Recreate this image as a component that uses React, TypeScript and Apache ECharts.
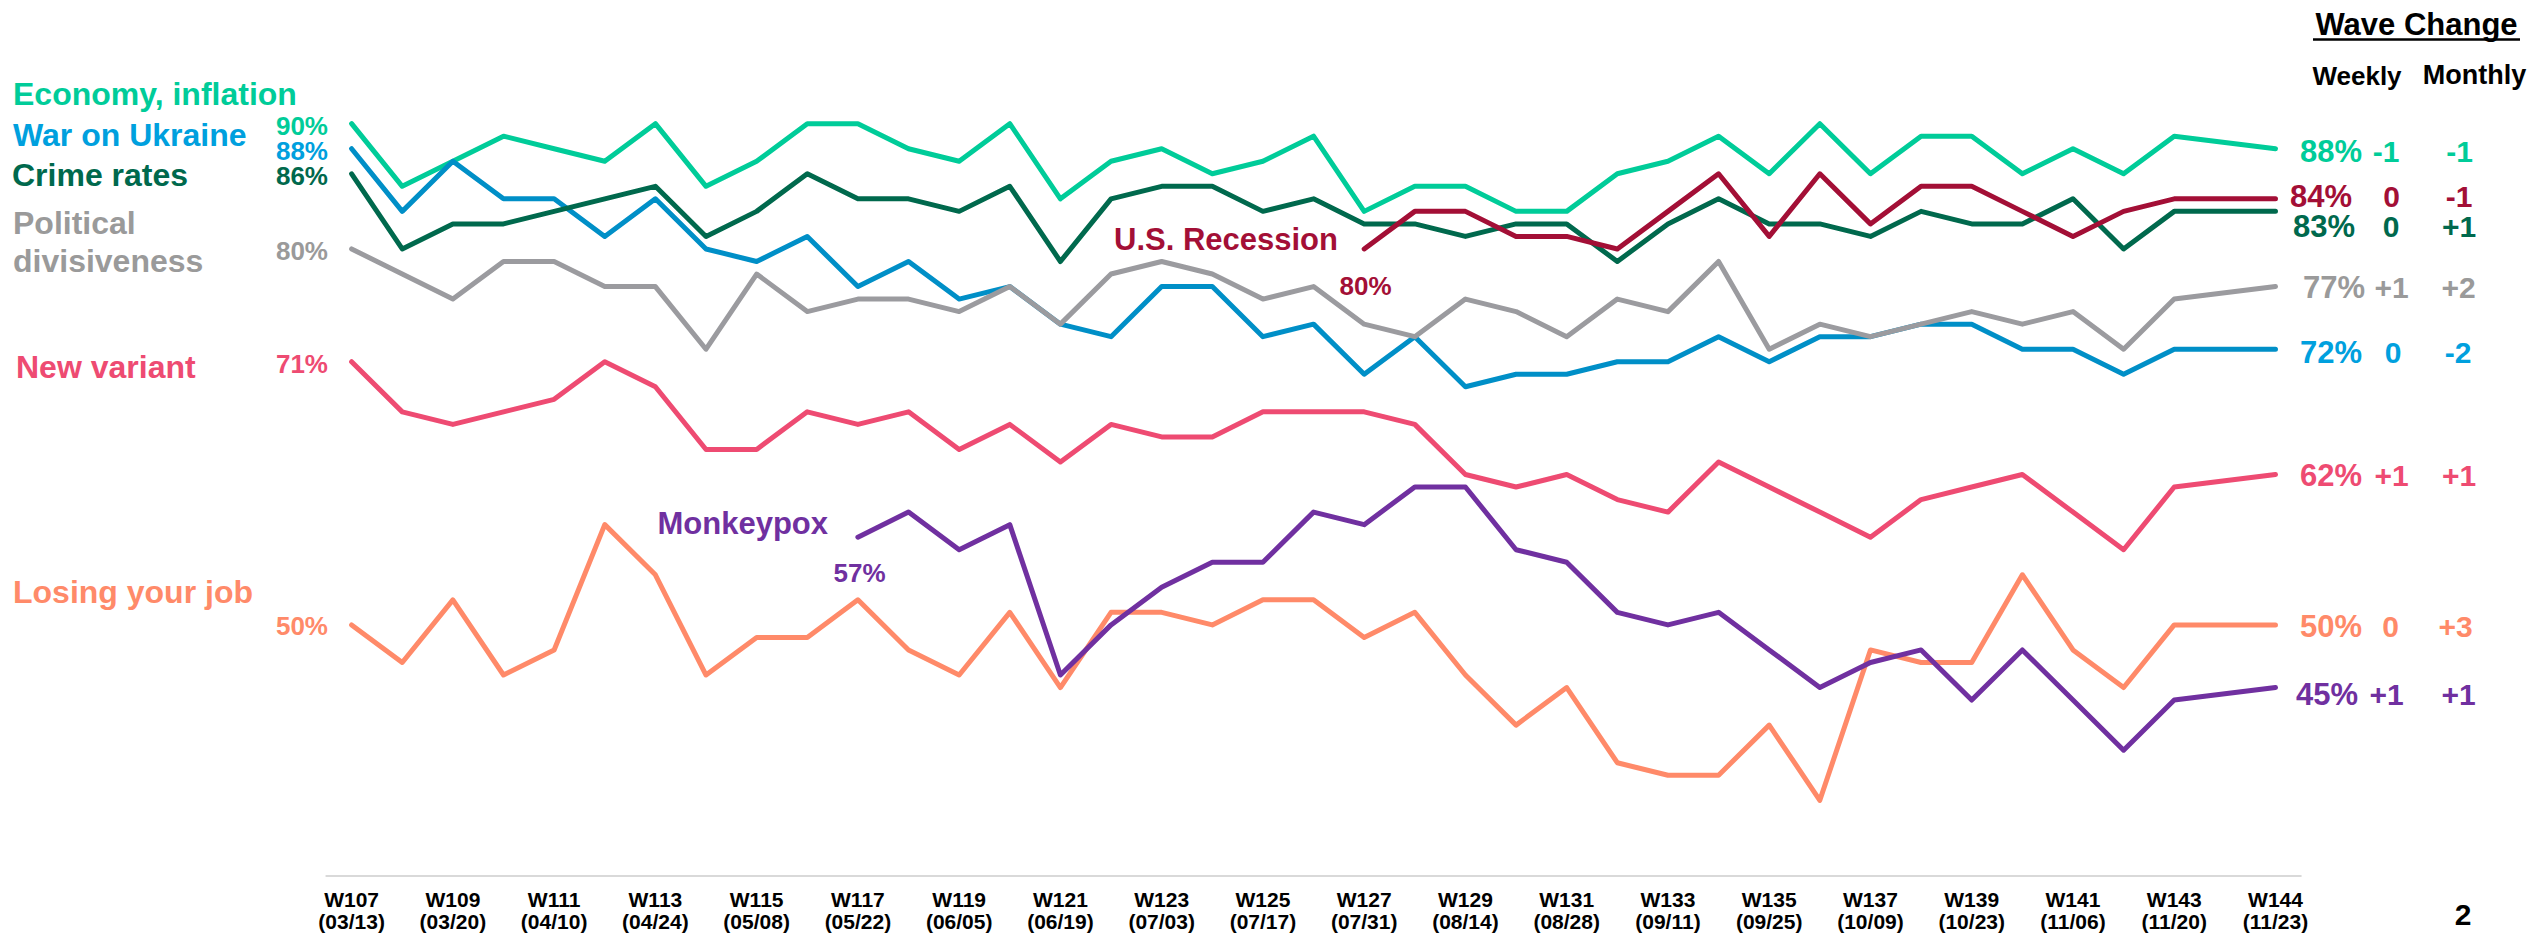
import React, { useEffect, useRef } from "react";
import * as echarts from "echarts";

// ---- Data ----
const tickWaves = ["W107","W109","W111","W113","W115","W117","W119","W121","W123","W125","W127","W129","W131","W133","W135","W137","W139","W141","W143","W144"];
const tickDates = ["03/13","03/20","04/10","04/24","05/08","05/22","06/05","06/19","07/03","07/17","07/31","08/14","08/28","09/11","09/25","10/09","10/23","11/06","11/20","11/23"];

const economy = [90,85,87,89,88,87,90,85,87,90,90,88,87,90,84,87,88,86,87,89,83,85,85,83,83,86,87,89,86,90,86,89,89,86,88,86,89,null,88];
const warUkraine = [88,83,87,84,84,81,84,80,79,81,77,79,76,77,74,73,77,77,73,74,70,73,69,70,70,71,71,73,71,73,73,74,74,72,72,70,72,null,72];
const crimeRates = [86,80,82,82,83,84,85,81,83,86,84,84,83,85,79,84,85,85,83,84,82,82,81,82,82,79,82,84,82,82,81,83,82,82,84,80,83,null,83];
const political = [80,78,76,79,79,77,77,72,78,75,76,76,75,77,74,78,79,78,76,77,74,73,76,75,73,76,75,79,72,74,73,74,75,74,75,72,76,null,77];
const recession = [null,null,null,null,null,null,null,null,null,null,null,null,null,null,null,null,null,null,null,null,80,83,83,81,81,80,83,86,81,86,82,85,85,83,81,83,84,null,84];
const newVariant = [71,67,66,67,68,71,69,64,64,67,66,67,64,66,63,66,65,65,67,67,67,66,62,61,62,60,59,63,61,59,57,60,61,62,59,56,61,null,62];
const losingJob = [50,47,52,46,48,58,54,46,49,49,52,48,46,51,45,51,51,50,52,52,49,51,46,42,45,39,38,38,42,36,48,47,47,54,48,45,50,null,50];
const monkeypox = [null,null,null,null,null,null,null,null,null,null,57,59,56,58,46,50,53,55,55,59,58,61,61,56,55,51,50,51,48,45,47,48,44,48,44,40,44,null,45];

// weekly / monthly change
const weeklyChange = { economy: "-1", recession: "0", crime: "0", political: "+1", war: "0", variant: "+1", job: "0", monkeypox: "+1" };
const monthlyChange = { economy: "-1", recession: "-1", crime: "+1", political: "+2", war: "-2", variant: "+1", job: "+3", monkeypox: "+1" };

// ---- Styles ----
const FONT = "'Liberation Sans', Arial, Helvetica, sans-serif";
const C = {
  economy: "#00CC99",
  war: "#008FC7",
  warText: "#00A0DE",
  crime: "#00694D",
  political: "#9B9B9F",
  politicalText: "#9A9A9A",
  variant: "#EE4B72",
  job: "#FF8A69",
  monkeypox: "#7030A0",
  recession: "#A30F36",
};

const categories: string[] = [];
for (let i = 0; i < 39; i++) {
  if (i % 2 === 0) categories.push(tickWaves[i / 2] + "\n(" + tickDates[i / 2] + ")");
  else categories.push("mid" + i);
}

const first = (a: (number | null)[]) => a.find((v) => v !== null) as number;
const last = (a: (number | null)[]) => a[a.length - 1] as number;

function txt(text: string, x: number, y: number, size: number, color: string, align = "left", extra: any = {}) {
  return {
    type: "text",
    x,
    y,
    silent: true,
    style: {
      text,
      fill: color,
      font: `bold ${size}px ${FONT}`,
      align,
      verticalAlign: "middle",
      ...extra,
    },
  };
}

export default function App() {
  const ref = useRef<HTMLDivElement>(null);
  useEffect(() => {
    if (!ref.current) return;
    const chart = echarts.init(ref.current, undefined, { renderer: "svg" });

    const mk = (name: string, data: (number | null)[], color: string) => ({
      name,
      type: "line",
      data,
      symbol: "none",
      connectNulls: true,
      lineStyle: { color, width: 5, cap: "round", join: "round" },
      itemStyle: { color },
      emphasis: { disabled: true },
    });

    const rightRows = [
      { v: last(economy), w: weeklyChange.economy, m: monthlyChange.economy, c: C.economy, y: 151, px: 2300, wx: 2386, mx: 2459.5 },
      { v: last(recession), w: weeklyChange.recession, m: monthlyChange.recession, c: C.recession, y: 196, px: 2290, wx: 2391.5, mx: 2459 },
      { v: last(crimeRates), w: weeklyChange.crime, m: monthlyChange.crime, c: C.crime, y: 226, px: 2293, wx: 2391, mx: 2459 },
      { v: last(political), w: weeklyChange.political, m: monthlyChange.political, c: C.politicalText, y: 287, px: 2303, wx: 2391.5, mx: 2458.5 },
      { v: last(warUkraine), w: weeklyChange.war, m: monthlyChange.war, c: C.warText, y: 352.5, px: 2300, wx: 2393, mx: 2458 },
      { v: last(newVariant), w: weeklyChange.variant, m: monthlyChange.variant, c: C.variant, y: 475, px: 2300, wx: 2391.5, mx: 2459 },
      { v: last(losingJob), w: weeklyChange.job, m: monthlyChange.job, c: C.job, y: 626, px: 2300, wx: 2390.5, mx: 2455.5 },
      { v: last(monkeypox), w: weeklyChange.monkeypox, m: monthlyChange.monkeypox, c: C.monkeypox, y: 694, px: 2296, wx: 2386.5, mx: 2458.5 },
    ];

    const small = { lineHeight: 22 };
    const graphics: any[] = [
      // left series names
      txt("Economy, inflation", 13, 94, 32, C.economy),
      txt("War on Ukraine", 13, 134.5, 32, C.warText),
      txt("Crime rates", 12, 175, 32, C.crime),
      txt("Political\ndivisiveness", 13, 242, 32, C.politicalText, "left", { lineHeight: 38 }),
      txt("New variant", 16, 367, 32, C.variant),
      txt("Losing your job", 13, 592, 32, C.job),
      // left start values
      txt(first(economy) + "%", 328, 126, 26, C.economy, "right", small),
      txt(first(warUkraine) + "%", 328, 150.5, 26, C.warText, "right", small),
      txt(first(crimeRates) + "%", 328, 176, 26, C.crime, "right", small),
      txt(first(political) + "%", 328, 251, 26, C.politicalText, "right"),
      txt(first(newVariant) + "%", 328, 364, 26, C.variant, "right"),
      txt(first(losingJob) + "%", 328, 626, 26, C.job, "right"),
      // inline labels
      txt("U.S. Recession", 1114, 239, 31, C.recession),
      txt(first(recession) + "%", 1365.5, 285.5, 26, C.recession, "center"),
      txt("Monkeypox", 828, 523, 31, C.monkeypox, "right"),
      txt(first(monkeypox) + "%", 859.5, 572.5, 26, C.monkeypox, "center"),
      // header
      txt("Wave Change", 2416.5, 24, 31, "#000", "center"),
      { type: "line", silent: true, shape: { x1: 2313, y1: 39.5, x2: 2520, y2: 39.5 }, style: { stroke: "#000", lineWidth: 2.5 } },
      txt("Weekly", 2357, 76, 26, "#000", "center"),
      txt("Monthly", 2474.5, 75, 27, "#000", "center"),
      txt("2", 2463, 914, 30, "#000", "center"),
    ];
    rightRows.forEach((r) => {
      graphics.push(txt(r.v + "%", r.px, r.y, 31, r.c, "left", { lineHeight: 26 }));
      graphics.push(txt(r.w, r.wx, r.y, 30, r.c, "center", { lineHeight: 26 }));
      graphics.push(txt(r.m, r.mx, r.y, 30, r.c, "center", { lineHeight: 26 }));
    });

    chart.setOption({
      animation: false,
      backgroundColor: "#ffffff",
      grid: { left: 326.3, right: 228.2, top: 61, bottom: 60.5, containLabel: false },
      xAxis: {
        type: "category",
        data: categories,
        boundaryGap: true,
        axisLine: { show: true, lineStyle: { color: "#D9D9D9", width: 2 } },
        axisTick: { show: false },
        splitLine: { show: false },
        axisLabel: {
          interval: 1,
          margin: 13,
          color: "#000",
          fontFamily: FONT,
          fontWeight: "bold",
          fontSize: 21,
          lineHeight: 22,
        },
      },
      yAxis: {
        type: "value",
        min: 30,
        max: 95,
        show: false,
        splitLine: { show: false },
      },
      series: [
        mk("Economy, inflation", economy, C.economy),
        mk("War on Ukraine", warUkraine, C.war),
        mk("Crime rates", crimeRates, C.crime),
        mk("Political divisiveness", political, C.political),
        mk("U.S. Recession", recession, C.recession),
        mk("New variant", newVariant, C.variant),
        mk("Losing your job", losingJob, C.job),
        mk("Monkeypox", monkeypox, C.monkeypox),
      ],
      graphic: graphics,
    });
    return () => chart.dispose();
  }, []);

  return (
    <div
      ref={ref}
      style={{ position: "absolute", left: 0, top: 0, width: 2529, height: 936, background: "#fff" }}
    />
  );
}
